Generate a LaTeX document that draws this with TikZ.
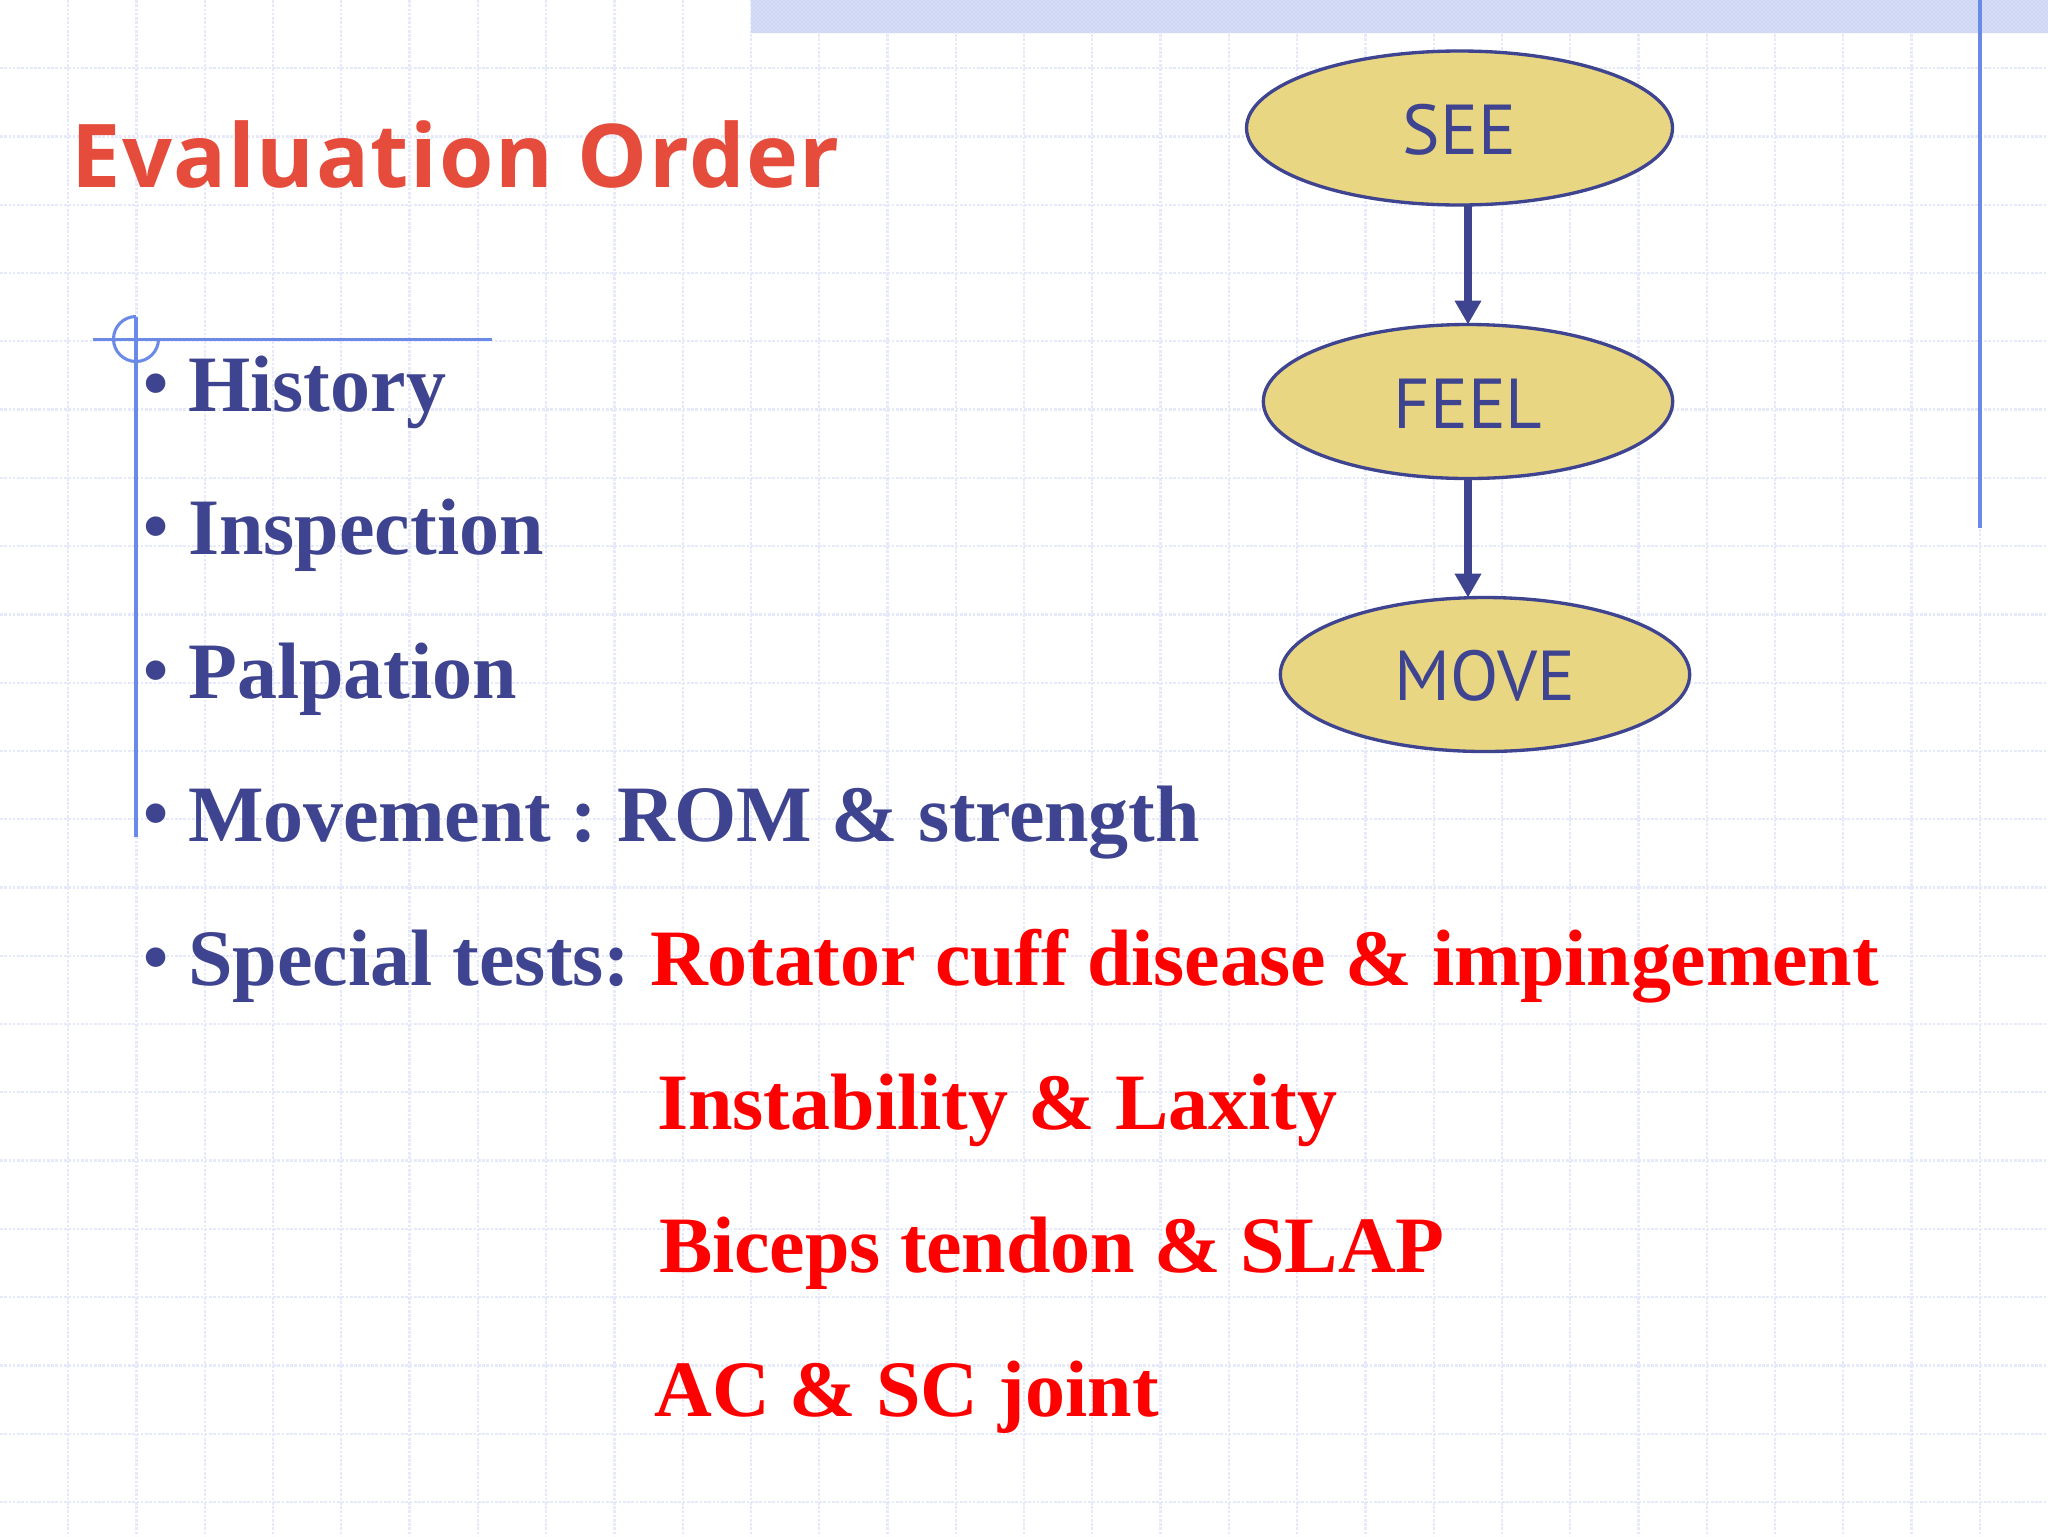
\documentclass[tikz,border=0pt]{standalone}
\usepackage{fontspec}
\usepackage{xcolor}
\usepackage{tikz}
\usetikzlibrary{shapes.geometric, arrows.meta, patterns}
\setmainfont{Liberation Serif}
\newfontfamily\titlefont[LetterSpace=1.8]{Open Sans}
\newfontfamily\flowfont{PT Sans}
\definecolor{slidenavy}{RGB}{62,68,144}
\definecolor{slidered}{RGB}{255,0,0}
\definecolor{titlered}{RGB}{230,76,60}
\definecolor{ruleblue}{RGB}{107,138,232}
\definecolor{gridblue}{RGB}{230,233,250}
\definecolor{bandblue}{RGB}{214,221,246}
\definecolor{banddot}{RGB}{178,192,236}
\definecolor{flowfill}{RGB}{233,214,130}
\newcommand{\bul}{\makebox[36pt][l]{\hspace{2.5pt}\raisebox{3pt}{\fontsize{54}{54}\selectfont\textbullet}}}
\newcommand{\tighten}{\addfontfeature{LetterSpace=-0.3}}
\tikzset{
    gridline/.style={color=gridblue, line width=1.7pt, dash pattern=on 2pt off 1.2pt},
    sliderule/.style={color=ruleblue, line width=2.3pt},
    itemtext/.style={anchor=base west, inner sep=0pt, font=\fontsize{60}{60}\selectfont\bfseries\frenchspacing, color=slidenavy},
    subtext/.style={itemtext, color=slidered},
    flownode/.style={shape=ellipse, draw=slidenavy, fill=flowfill, line width=2.5pt, inner sep=0pt, outer sep=0pt,
        minimum height=115.5pt, text height=40pt, text=slidenavy, font=\flowfont\fontsize{53}{53}\selectfont},
    flowarrow/.style={color=slidenavy, line width=6pt, -{Triangle[length=18pt,width=19pt]}}
}
\begin{document}
\begin{tikzpicture}[x=0.75pt,y=0.75pt,yscale=-1,xscale=1]
    \useasboundingbox (0,0) rectangle (2048,1536);
    \fill[color=white] (0,0) rectangle (2048,1536);

    % Grid
    \foreach \i in {1,...,29} {
        \draw[gridline] (68.27*\i,0) -- (68.27*\i,1536);
    }
    \foreach \j in {1,...,22} {
        \draw[gridline] (0,68.27*\j) -- (2048,68.27*\j);
    }

    % Top band and rules
    \fill[color=bandblue] (751,0) rectangle (2048,33);
    \fill[pattern=crosshatch dots, pattern color=banddot] (751,0) rectangle (2048,33);
    \draw[sliderule] (1980,0) -- (1980,528);
    \draw[sliderule] (93,339.5) -- (492,339.5);
    \draw[sliderule] (136,316.5) -- (136,837);
    \draw[sliderule] (136,316.5) arc[start angle=270, end angle=0, radius=22.5];

    % Title
    \node[anchor=base west, inner sep=0pt, color=titlered, font=\titlefont\fontsize{66}{66}\selectfont\bfseries] (title) at (71,187) {Evaluation Order};

    % Items
    \node[itemtext] (history) at (140,411) {\bul History};
    \node[itemtext] (inspection) at (140,554.7) {\bul Inspection};
    \node[itemtext] (palpation) at (140,698.3) {\bul Palpation};
    \node[itemtext] (movement) at (140,841.8) {\bul {\tighten Movement : ROM \& strength}};
    \node[itemtext] (special) at (140,985.5) {\bul Special tests: \textcolor{slidered}{\tighten Rotator cuff disease \& impingement}};
    \node[subtext] (instability) at (657,1129) {Instability \& Laxity};
    \node[subtext] (biceps) at (659,1272.5) {\tighten Biceps tendon \& SLAP};
    \node[subtext] (acsc) at (654,1416) {AC \& SC joint};

    % Flow
    \node[flownode, minimum width=319.5pt] (see) at (1459.5,128) {SEE};
    \node[flownode, minimum width=307pt] (feel) at (1468,401.5) {FEEL};
    \node[flownode, minimum width=307pt] (move) at (1485,674.5) {MOVE};
    \draw[flowarrow] (see.south -| feel.north) -- (feel.north);
    \draw[flowarrow] (feel.south) -- (feel.south |- move.north);
\end{tikzpicture}
\end{document}
